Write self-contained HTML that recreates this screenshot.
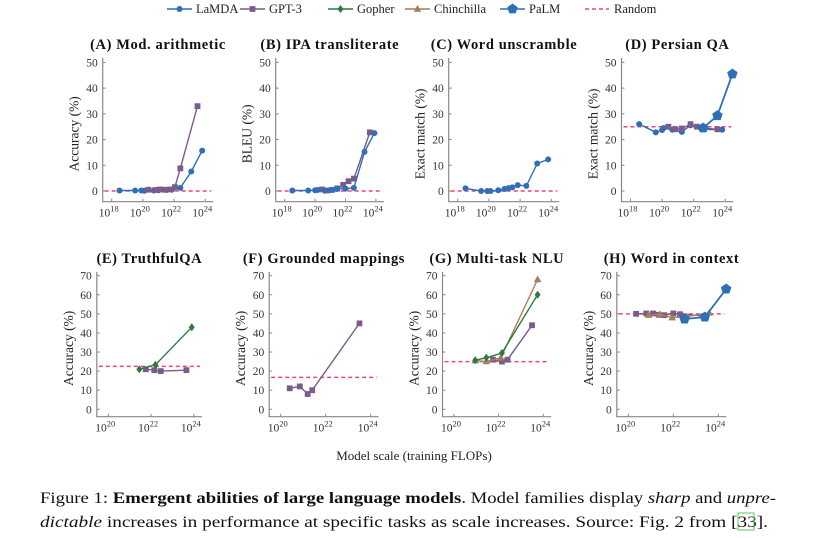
<!DOCTYPE html>
<html><head><meta charset="utf-8"><style>
body{margin:0;background:#fff;}
svg{display:block;font-family:"Liberation Serif",serif;}
</style></head><body>
<svg id="fig" width="815" height="538" viewBox="0 0 815 538" xmlns="http://www.w3.org/2000/svg">
<g id="legend"></g>
<g id="panels"></g>
<text x="414" y="460" font-size="13" text-anchor="middle" fill="#222">Model scale (training FLOPs)</text>
<text x="40" y="503" font-size="16" fill="#111" textLength="736" lengthAdjust="spacingAndGlyphs">Figure 1: <tspan font-weight="bold">Emergent abilities of large language models</tspan>. Model families display <tspan font-style="italic">sharp</tspan> and <tspan font-style="italic">unpre-</tspan></text>
<text x="40" y="527" font-size="16" fill="#111" textLength="728" lengthAdjust="spacingAndGlyphs"><tspan font-style="italic">dictable</tspan> increases in performance at specific tasks as scale increases. Source: Fig. 2 from [33].</text>
<rect x="738" y="513" width="16" height="17" fill="none" stroke="#5c5" stroke-width="1"/>
</svg>
<script>
// ---- data (log10 FLOPs, score) ----
const A_lamda_x=[18.5,19.5,19.9,20.1,20.7,21.0,21.5,21.85,22.4,23.1,23.8];
const A_lamda_y=[0.2,0.2,0.2,0.1,0.2,0.3,0.4,0.5,1.2,7.6,15.7];
const A_gpt3_x=[20.35,20.8,21.1,21.4,21.75,22.05,22.4,23.5];
const A_gpt3_y=[0.5,0.4,0.6,0.5,0.6,1.5,8.8,33];
const B_lamda_x=[18.5,19.55,20.0,20.15,20.65,21.1,21.45,22.0,22.55,23.25,23.9];
const B_lamda_y=[0.2,0.2,0.3,0.4,0.1,0.5,0.8,0.9,1.2,15.2,22.5];
const B_gpt3_x=[20.45,20.8,21.1,21.45,21.85,22.2,22.55,23.6];
const B_gpt3_y=[0.6,0.2,0.4,1.0,2.4,3.8,4.8,22.8];
const C_lamda_x=[18.5,19.5,19.9,20.1,20.6,21.0,21.25,21.5,21.85,22.4,23.1,23.8];
const C_lamda_y=[1.0,0,0,0,0.3,0.8,1.1,1.4,2.3,2.0,10.7,12.3];
const D_lamda_x=[18.55,19.6,20.0,20.1,20.65,21.25,21.8,22.5,23.8];
const D_lamda_y=[26,22.8,23.7,24.5,23.8,23,25.5,24,23.8];
const D_gpt3_x=[20.4,20.85,21.25,21.8,22.2,22.6,23.5];
const D_gpt3_y=[25,24,24.3,26,25,24.5,24];
const D_palm_x=[22.6,23.5,24.45];
const D_palm_y=[24.5,29.3,45.5];
const E_gopher_x=[21.45,22.2,23.9];
const E_gopher_y=[21,23.3,43];
const E_gpt3_x=[21.75,22.15,22.45,23.65];
const E_gpt3_y=[21,20.5,20,20.5];
const F_gpt3_x=[20.4,20.85,21.2,21.4,23.5];
const F_gpt3_y=[11,12,8,10,45];
const G_gopher_x=[20.95,21.45,22.15,23.75];
const G_gopher_y=[25.7,27,29.5,60];
const G_chin_x=[20.95,21.45,22.1,23.75];
const G_chin_y=[25.5,25,27,68];
const G_gpt3_x=[21.75,22.15,22.4,23.5];
const G_gpt3_y=[26,25,26,44];
const H_gpt3_x=[20.35,20.8,21.1,21.35,21.6,22.0,22.3,23.4];
const H_gpt3_y=[50,50.2,50.2,49.5,49.3,50.2,49.8,48.8];
const H_chin_x=[20.9,21.4,21.95,22.6,23.6];
const H_chin_y=[49.3,49.8,48,48.6,50.5];
const H_palm_x=[22.5,23.4,24.35];
const H_palm_y=[47.3,48.3,63];
const randomLevels=[0,0,0,25,22.5,16.7,25,50];
const titles=["(A) Mod. arithmetic","(B) IPA transliterate","(C) Word unscramble","(D) Persian QA","(E) TruthfulQA","(F) Grounded mappings","(G) Multi-task NLU","(H) Word in context"];
const ylabels=["Accuracy (%)","BLEU (%)","Exact match (%)","Exact match (%)","Accuracy (%)","Accuracy (%)","Accuracy (%)","Accuracy (%)"];
const topYTicks=[0,10,20,30,40,50];
const botYTicks=[0,10,20,30,40,50,60,70];
const topXTicks=[18,20,22,24];
const botXTicks=[20,22,24];

const C={lamda:"#2f6fb8",gpt3:"#7b5a8c",gopher:"#2d7a3c",chin:"#a47f5c",palm:"#2e6fb5",rand:"#e24a7d"};
const NS="http://www.w3.org/2000/svg";
function el(tag,attrs,parent){const e=document.createElementNS(NS,tag);for(const k in attrs)e.setAttribute(k,attrs[k]);parent.appendChild(e);return e;}
function marker(type,cx,cy,parent,color){
  let m;
  if(type==="circle"){m=el("circle",{cx:cx,cy:cy,r:3,fill:color},parent);}
  else if(type==="square"){m=el("rect",{x:cx-2.9,y:cy-2.9,width:5.8,height:5.8,fill:color},parent);}
  else if(type==="diamond"){m=el("polygon",{points:`${cx},${cy-4} ${cx+3},${cy} ${cx},${cy+4} ${cx-3},${cy}`,fill:color},parent);}
  else if(type==="tri"){m=el("polygon",{points:`${cx},${cy-4} ${cx+3.8},${cy+2.7} ${cx-3.8},${cy+2.7}`,fill:color},parent);}
  else {let p=[];for(let i=0;i<5;i++){const a=-Math.PI/2+i*2*Math.PI/5;p.push((cx+5.5*Math.cos(a)).toFixed(1)+","+(cy+5.5*Math.sin(a)).toFixed(1));}
    m=el("polygon",{points:p.join(" "),fill:color},parent);}
  return m;
}
// legend
const lg=document.getElementById("legend");
const legendItems=[["LaMDA","circle",C.lamda,167],["GPT-3","square",C.gpt3,240],["Gopher","diamond",C.gopher,328],["Chinchilla","tri",C.chin,405],["PaLM","pent",C.palm,500],["Random","dash",C.rand,585]];
legendItems.forEach(it=>{
  const g=el("g",{},lg);
  
  
  if(it[1]==="dash"){el("line",{x1:it[3],y1:9,x2:it[3]+24,y2:9,stroke:it[2],"stroke-width":1.4,"stroke-dasharray":"4,3"},g);}
  else{el("line",{x1:it[3],y1:9,x2:it[3]+25,y2:9,stroke:it[2],"stroke-width":1.4},g);marker(it[1],it[3]+12.5,9,g,it[2]);}
  const t=el("text",{x:it[3]+29,y:13,"font-size":12.5,fill:"#222"},g);t.textContent=it[0];
});
// panels
const panelDefs=[
 {x0:111.7,dec:15.6,y0:191,unit:2.572,top:58,bottom:201.7,xt:topXTicks,yt:topYTicks,minX:18,series:[["lamda",A_lamda_x,A_lamda_y],["gpt3",A_gpt3_x,A_gpt3_y]]},
 {x0:284.7,dec:15.2,y0:191,unit:2.572,top:58,bottom:201.7,xt:topXTicks,yt:topYTicks,minX:18,series:[["gpt3",B_gpt3_x,B_gpt3_y],["lamda",B_lamda_x,B_lamda_y]]},
 {x0:457.7,dec:15.6,y0:191,unit:2.572,top:58,bottom:201.7,xt:topXTicks,yt:topYTicks,minX:18,series:[["lamda",C_lamda_x,C_lamda_y]]},
 {x0:630.5,dec:15.8,y0:191,unit:2.572,top:58,bottom:201.7,xt:topXTicks,yt:topYTicks,minX:18,series:[["lamda",D_lamda_x,D_lamda_y],["gpt3",D_gpt3_x,D_gpt3_y],["palm",D_palm_x,D_palm_y]]},
 {x0:108.3,dec:21.4,y0:409.3,unit:1.909,top:272,bottom:416.7,xt:botXTicks,yt:botYTicks,minX:20,series:[["gpt3",E_gpt3_x,E_gpt3_y],["gopher",E_gopher_x,E_gopher_y]]},
 {x0:280.7,dec:22.5,y0:409.3,unit:1.909,top:272,bottom:416.7,xt:botXTicks,yt:botYTicks,minX:20,series:[["gpt3",F_gpt3_x,F_gpt3_y]]},
 {x0:454,dec:22.3,y0:409.3,unit:1.909,top:272,bottom:416.7,xt:botXTicks,yt:botYTicks,minX:20,series:[["gpt3",G_gpt3_x,G_gpt3_y],["chin",G_chin_x,G_chin_y],["gopher",G_gopher_x,G_gopher_y]]},
 {x0:628.3,dec:22.5,y0:409.3,unit:1.909,top:272,bottom:416.7,xt:botXTicks,yt:botYTicks,minX:20,series:[["gpt3",H_gpt3_x,H_gpt3_y],["chin",H_chin_x,H_chin_y],["palm",H_palm_x,H_palm_y]]}
];
const mtype={lamda:"circle",gpt3:"square",gopher:"diamond",chin:"tri",palm:"pent"};
const sname={lamda:"lamda",gpt3:"gpt3",gopher:"gopher",chin:"chinchilla",palm:"palm"};
const pg=document.getElementById("panels");
panelDefs.forEach((p,i)=>{
  const letter="abcdefgh"[i];
  const g=el("g",{},pg);
  
  
  const xs=v=>p.x0+(v-p.minX)*p.dec;
  const ys=v=>p.y0-v*p.unit;
  const axL=p.x0-(p.minX===18?9:11.5);
  const axR=p.x0+(24-p.minX)*p.dec+8;
  const t=el("text",{x:(axL+axR)/2,y:p.top-9,"font-size":14.5,"font-weight":"bold","letter-spacing":0.6,"text-anchor":"middle",fill:"#111"},g);
  
  
  t.textContent=titles[i];
  const ax=el("path",{d:`M${axL},${p.top} V${p.bottom} H${axR}`,fill:"none",stroke:"#888","stroke-width":1.2},g);
  
  
  p.yt.forEach(v=>{
    el("line",{x1:axL,y1:ys(v),x2:axL+3,y2:ys(v),stroke:"#888","stroke-width":1},g);
    const tl=el("text",{x:axL-5,y:ys(v)+4,"font-size":11.5,"text-anchor":"end",fill:"#333"},g);
    
    
    tl.textContent=v;
  });
  p.xt.forEach(v=>{
    el("line",{x1:xs(v),y1:p.bottom,x2:xs(v),y2:p.bottom-3,stroke:"#888","stroke-width":1},g);
    const tl=el("text",{x:xs(v)-3,y:p.bottom+15,"font-size":11.5,"text-anchor":"middle",fill:"#333"},g);
    
    
    tl.textContent="10";
    const sp=el("tspan",{dy:-5,"font-size":8.5},tl);sp.textContent=String(v);
  });
  const ymid=(p.top+p.bottom)/2+4;
  const ylx=axL-24;
  const yl=el("text",{x:ylx,y:ymid,"font-size":13.5,"text-anchor":"middle",fill:"#222",transform:`rotate(-90 ${ylx} ${ymid})`},g);
  
  
  yl.textContent=ylabels[i];
  const rl=el("line",{x1:axL+2,y1:ys(randomLevels[i]),x2:axR-2,y2:ys(randomLevels[i]),stroke:C.rand,"stroke-width":1.5,"stroke-dasharray":"4,3"},g);
  
  
  p.series.forEach(s=>{
    const col=C[s[0]];
    const sg=el("g",{},g);
    
    
    const pts=s[1].map((x,k)=>xs(x).toFixed(1)+","+ys(s[2][k]).toFixed(1)).join(" ");
    el("polyline",{points:pts,fill:"none",stroke:col,"stroke-width":s[0]==="palm"?1.8:1.4},sg);
    s[1].forEach((x,k)=>{
      const m=marker(mtype[s[0]],xs(x),ys(s[2][k]),sg,col);
      
      
    });
  });
});
</script>
</body></html>
